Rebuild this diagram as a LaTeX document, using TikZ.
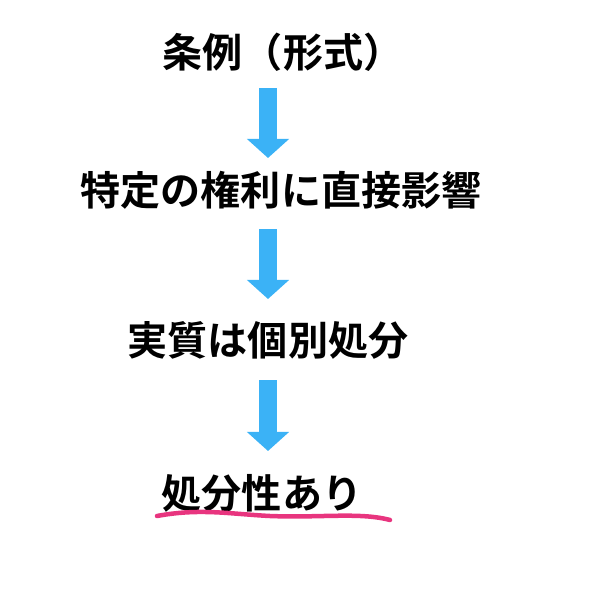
\documentclass[tikz,border=0pt]{standalone}
\usepackage{fontspec}
\newfontfamily\cjk{Noto Sans CJK JP}[BoldFont={* Bold}]
\usetikzlibrary{arrows.meta}
\definecolor{arrowblue}{HTML}{3BB2F6}
\definecolor{markpink}{HTML}{E8357F}
\begin{document}
\begin{tikzpicture}[x=0.01cm,y=-0.01cm,
    txt/.style={inner sep=0pt,font=\cjk\bfseries\fontsize{11.4pt}{13pt}\selectfont},
    blk/.style={arrowblue,line width=0.17cm,-{Triangle[width=0.41cm,length=0.19cm]}}]
  \useasboundingbox (0,0) rectangle (600,600);
  \node[txt] (t1) at (283,52) {条例（形式）};
  \node[txt] (t2) at (281,190) {特定の権利に直接影響};
  \node[txt] (t3) at (268,340) {実質は個別処分};
  \node[txt] (t4) at (262,493) {処分性あり};
  \coordinate (a1) at (268,88);  \coordinate (b1) at (268,158);
  \coordinate (a2) at (268,229); \coordinate (b2) at (268,299);
  \coordinate (a3) at (268,380); \coordinate (b3) at (268,451);
  \draw[blk] (a1) -- (b1);
  \draw[blk] (a2) -- (b2);
  \draw[blk] (a3) -- (b3);
  % underline
  \draw[markpink,line width=0.045cm,line cap=round]
    (157,516) .. controls (200,508) and (230,514) .. (270,516)
    .. controls (320,518) and (360,512) .. (390,520);
\end{tikzpicture}
\end{document}
